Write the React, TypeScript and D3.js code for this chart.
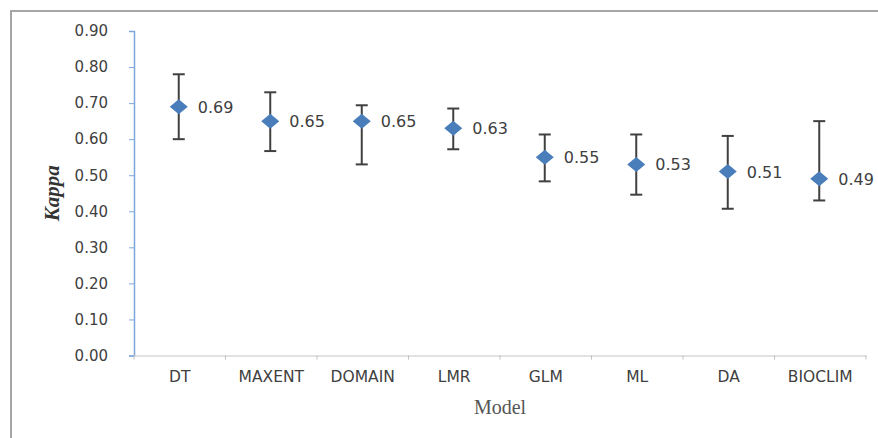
import { useEffect, useRef } from "react";
import * as d3 from "d3";

const models = ["DT", "MAXENT", "DOMAIN", "LMR", "GLM", "ML", "DA", "BIOCLIM"];
const kappa = [0.69, 0.65, 0.65, 0.63, 0.55, 0.53, 0.51, 0.49];
const upper = [0.78, 0.73, 0.694, 0.685, 0.613, 0.613, 0.609, 0.65];
const lower = [0.6, 0.567, 0.53, 0.572, 0.483, 0.446, 0.407, 0.43];
const yTicks = [0, 0.1, 0.2, 0.3, 0.4, 0.5, 0.6, 0.7, 0.8, 0.9];

const sans = "DejaVu Sans, Verdana, sans-serif";
const serif = "Liberation Serif, Times New Roman, serif";

export default function App() {
  const ref = useRef<SVGSVGElement>(null);

  useEffect(() => {
    const svg = d3.select(ref.current);
    svg.selectAll("*").remove();

    const left = 134, right = 866, top = 31, bottom = 355.5;
    const x = d3.scaleBand().domain(models).range([left, right]);
    const y = d3.scaleLinear().domain([0, 0.9]).range([bottom, top]);

    // frame (top and left edges only visible)
    svg.append("line").attr("x1", 11).attr("x2", 878).attr("y1", 11).attr("y2", 11)
      .attr("stroke", "#a6a6a6").attr("stroke-width", 2);
    svg.append("line").attr("x1", 11).attr("x2", 11).attr("y1", 10).attr("y2", 438)
      .attr("stroke", "#a6a6a6").attr("stroke-width", 2);

    // y axis
    const yAxis = svg.append("g").attr("transform", `translate(${left},0)`)
      .call(d3.axisLeft(y).tickValues(yTicks).tickFormat(d3.format(".2f")).tickSize(5).tickPadding(21));
    yAxis.select(".domain").attr("stroke", "#7ea6dc").attr("stroke-width", 1.5);
    yAxis.selectAll(".tick line").attr("stroke", "#7ea6dc");
    yAxis.selectAll(".tick text").attr("fill", "#404040")
      .style("font-family", sans).style("font-size", "15px");

    // x axis
    const xAxis = svg.append("g").attr("transform", `translate(0,${bottom})`)
      .call(d3.axisBottom(x).tickSize(0).tickPadding(15));
    xAxis.select(".domain").attr("stroke", "#d9d9d9").attr("stroke-width", 1.5);
    xAxis.selectAll(".tick text").attr("fill", "#404040")
      .style("font-family", sans).style("font-size", "15.5px");
    xAxis.selectAll(".sep").data(d3.range(models.length + 1)).enter().append("line")
      .attr("x1", (i) => left + i * x.step()).attr("x2", (i) => left + i * x.step())
      .attr("y1", 0).attr("y2", 4).attr("stroke", "#bfbfbf");

    // axis titles
    svg.append("text")
      .attr("transform", `translate(59,${(top + bottom) / 2}) rotate(-90)`)
      .attr("text-anchor", "middle")
      .style("font-family", serif)
      .style("font-size", "21px").style("font-style", "italic").style("font-weight", "bold")
      .attr("fill", "#333").text("Kappa");
    svg.append("text").attr("x", 500).attr("y", 414).attr("text-anchor", "middle")
      .style("font-family", serif)
      .style("font-size", "20px").attr("fill", "#555").text("Model");

    // error bars, markers, labels
    const g = svg.append("g");
    models.forEach((m, i) => {
      const cx = (x(m) as number) + x.bandwidth() / 2 - 1;
      g.append("line").attr("x1", cx).attr("x2", cx).attr("y1", y(upper[i])).attr("y2", y(lower[i]))
        .attr("stroke", "#404040").attr("stroke-width", 2);
      [upper[i], lower[i]].forEach((v) => {
        g.append("line").attr("x1", cx - 6).attr("x2", cx + 6).attr("y1", y(v)).attr("y2", y(v))
          .attr("stroke", "#404040").attr("stroke-width", 2);
      });
      const cy = y(kappa[i]);
      g.append("path").attr("d", `M${cx},${cy - 7.5}L${cx + 9},${cy}L${cx},${cy + 7.5}L${cx - 9},${cy}Z`)
        .attr("fill", "#4a7ebb");
      g.append("text").attr("x", cx + 19).attr("y", cy + 6)
        .style("font-family", sans).style("font-size", "16px")
        .attr("fill", "#404040").text(kappa[i].toFixed(2));
    });
  }, []);

  return (
    <svg ref={ref} width={878} height={438}
      style={{ position: "absolute", left: 0, top: 0, background: "#fff" }} />
  );
}
